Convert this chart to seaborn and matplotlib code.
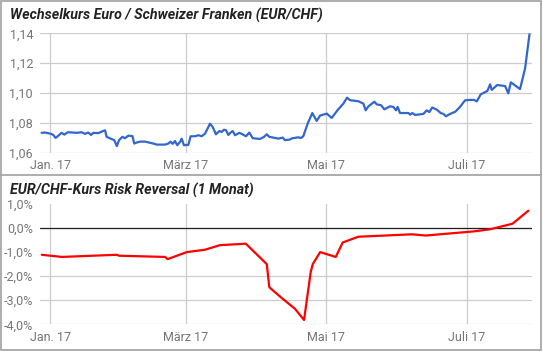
import matplotlib.pyplot as plt
import matplotlib.dates as mdates
import numpy as np
import pandas as pd
import seaborn as sns
from matplotlib.lines import Line2D
from matplotlib.patches import Rectangle
from matplotlib.ticker import FuncFormatter

# Data (days counted from 1 Jan 2017)
fx_days = [
    -3.8, -2.3, -0.1, 1.3, 2.3, 3.5, 4.9, 6.1, 7.6, 9.3, 11.5, 13.6, 15.1, 16.5, 17.7,
    18.7, 20.9, 22.3, 23.8, 24.5, 25.5, 26.7, 27.8, 28.9, 29.9, 31.3, 32.5, 33.9, 35.7,
    36.5, 37.6, 39.0, 41.2, 43.4, 44.8, 46.3, 48.4, 49.9, 51.3, 52.3, 53.2, 54.2, 55.2,
    56.4, 57.1, 58.1, 60.0, 61.0, 62.9, 64.4, 65.8, 67.3, 69.4, 70.6, 72.0, 73.5, 74.5,
    75.5, 76.4, 77.4, 78.4, 79.3, 80.3, 82.2, 83.6, 85.1, 86.5, 88.0, 89.7, 91.2, 92.9,
    94.1, 95.2, 97.0, 99.1, 101.0, 102.0, 104.2, 105.0, 107.8, 109.0, 110.0, 111.9,
    113.9, 115.8, 117.3, 120.2, 122.3, 125.2, 127.4, 129.0, 130.3, 133.9, 136.1, 137.1,
    138.3, 140.9, 141.9, 143.8, 145.2, 147.7, 149.1, 150.3, 151.0, 152.0, 155.7, 156.4,
    157.4, 158.6, 162.2, 163.6, 164.8, 166.0, 168.0, 169.7, 170.9, 172.0, 173.8, 176.0,
    178.1, 180.3, 182.5, 184.2, 185.4, 187.1, 190.0, 191.2, 191.9, 194.3, 197.7, 199.1,
    200.2, 204.2, 206.4, 208.3,
]
eurchf = [
    1.0732, 1.0734, 1.0727, 1.0718, 1.0698, 1.0713, 1.0732, 1.0720, 1.0736, 1.0734,
    1.0732, 1.0736, 1.0725, 1.0734, 1.0718, 1.0732, 1.0730, 1.0740, 1.0749, 1.0705,
    1.0698, 1.0690, 1.0683, 1.0643, 1.0683, 1.0705, 1.0696, 1.0713, 1.0710, 1.0660,
    1.0667, 1.0673, 1.0673, 1.0665, 1.0660, 1.0653, 1.0653, 1.0653, 1.0660, 1.0673,
    1.0658, 1.0677, 1.0649, 1.0671, 1.0693, 1.0649, 1.0651, 1.0709, 1.0709, 1.0716,
    1.0709, 1.0727, 1.0793, 1.0771, 1.0722, 1.0744, 1.0738, 1.0753, 1.0749, 1.0718,
    1.0734, 1.0744, 1.0716, 1.0732, 1.0722, 1.0709, 1.0734, 1.0696, 1.0693, 1.0691,
    1.0705, 1.0722, 1.0705, 1.0700, 1.0693, 1.0700, 1.0683, 1.0687, 1.0695, 1.0702,
    1.0697, 1.0710, 1.0795, 1.0865, 1.0812, 1.0848, 1.0861, 1.0832, 1.0890, 1.0928,
    1.0968, 1.0951, 1.0944, 1.0928, 1.0883, 1.0910, 1.0941, 1.0923, 1.0917, 1.0890,
    1.0910, 1.0906, 1.0883, 1.0906, 1.0865, 1.0865, 1.0854, 1.0865, 1.0852, 1.0859,
    1.0883, 1.0871, 1.0902, 1.0888, 1.0865, 1.0859, 1.0843, 1.0859, 1.0873, 1.0906,
    1.0950, 1.0953, 1.0953, 1.0943, 1.0990, 1.1013, 1.1058, 1.1020, 1.1053, 1.1046,
    1.0997, 1.1071, 1.1026, 1.1165, 1.1393,
]

rr_days = [
    -3.7, 5.0, 28.9, 29.9, 49.9, 51.0, 59.3, 67.3, 73.8, 85.0, 94.1, 95.2, 99.9, 106.4,
    110.3, 113.2, 114.1, 117.3, 124.1, 127.1, 133.9, 157.1, 163.2, 183.9, 191.2, 200.9,
    207.8,
]
risk_reversal = [
    -1.11, -1.20, -1.11, -1.15, -1.20, -1.29, -1.00, -0.90, -0.71, -0.65, -1.50, -2.46,
    -2.85, -3.36, -3.82, -1.83, -1.50, -1.00, -1.20, -0.60, -0.36, -0.26, -0.31, -0.14,
    -0.05, 0.18, 0.72,
]

tick_dates = ["2017-01-01", "2017-03-01", "2017-05-01", "2017-07-01"]
tick_labels = ["Jan. 17", "März 17", "Mai 17", "Juli 17"]
fx_ticks = [1.06, 1.08, 1.10, 1.12, 1.14]
rr_ticks = [-4, -3, -2, -1, 0, 1]

base = pd.Timestamp("2017-01-01")
fx = pd.DataFrame({"date": base + pd.to_timedelta(fx_days, unit="D"), "value": eurchf})
rr = pd.DataFrame({"date": base + pd.to_timedelta(rr_days, unit="D"), "value": risk_reversal})

# Style
sns.set_style("white")
plt.rcParams["font.family"] = ["Roboto", "DejaVu Sans"]

W, H = 543, 352
fig = plt.figure(figsize=(W / 100, H / 100), dpi=100)

ax1 = fig.add_axes([40 / W, 1 - 152.5 / H, 492 / W, 119.2 / H])
ax2 = fig.add_axes([40 / W, 1 - 324.3 / H, 492 / W, 120.3 / H])

sns.lineplot(fx, x="date", y="value", ax=ax1, color="#3366CC", linewidth=1.6)
sns.lineplot(rr, x="date", y="value", ax=ax2, color="#FF0000", linewidth=1.6)

xmin = base + pd.Timedelta(days=-4.48)
xmax = base + pd.Timedelta(days=209.4)
grid_c = "#CCCCCC"
label_c = "#757575"

for ax in (ax1, ax2):
    ax.set_xlim(xmin, xmax)
    ax.set_xticks(pd.to_datetime(tick_dates))
    ax.set_xticklabels(tick_labels)
    ax.set_xlabel(None)
    ax.set_ylabel(None)
    for s in ax.spines.values():
        s.set_visible(False)
    ax.grid(True, color=grid_c, linewidth=0.9)
    ax.set_axisbelow(True)
    ax.tick_params(length=0, labelsize=9, labelcolor=label_c, pad=5)
    ax.tick_params(axis="y", pad=5)
    ax.set_facecolor("none")

ax1.set_ylim(1.06, 1.14)
ax1.set_yticks(fx_ticks)
ax1.yaxis.set_major_formatter(FuncFormatter(lambda v, p: f"{v:.2f}".replace(".", ",")))

ax2.set_ylim(-4, 1)
ax2.set_yticks(rr_ticks)
ax2.yaxis.set_major_formatter(FuncFormatter(lambda v, p: f"{v:.1f}%".replace(".", ",")))
ax2.axhline(0, color="#222222", linewidth=0.9, zorder=1.5)
for gl in ax2.get_ygridlines():
    if abs(gl.get_ydata()[0]) < 1e-9:
        gl.set_visible(False)

# Titles
fig.text(10 / W, 1 - 15 / H, "Wechselkurs Euro / Schweizer Franken (EUR/CHF)",
         fontsize=10.3, fontstyle="italic", fontweight="bold", color="#222222", va="center")
fig.text(10 / W, 1 - 190 / H, "EUR/CHF-Kurs Risk Reversal (1 Monat)",
         fontsize=10.3, fontstyle="italic", fontweight="bold", color="#222222", va="center")

# Frames
fig.add_artist(Rectangle((1 / W, 1 - 350 / H), 540 / W, 349 / H, transform=fig.transFigure,
                         fill=False, edgecolor="#A0A0A0", linewidth=1.2))
fig.add_artist(Line2D([1 / W, 541 / W], [1 - 175 / H, 1 - 175 / H], transform=fig.transFigure,
                      color="#A0A0A0", linewidth=1.2))

plt.savefig("out.png", dpi=100)
